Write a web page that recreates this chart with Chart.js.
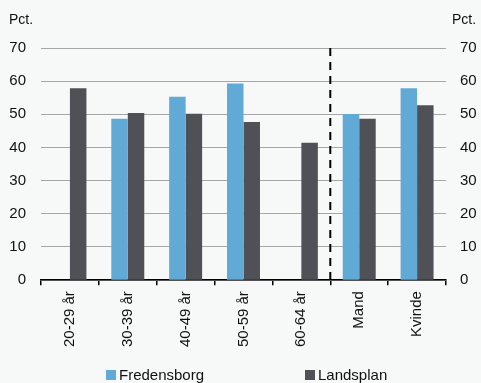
<!DOCTYPE html>
<html>
<head>
<meta charset="utf-8">
<script src="https://cdn.jsdelivr.net/npm/chart.js@4"></script>
<style>
  body { margin: 0; background: #f7f8f8; }
  #wrap { position: relative; width: 481px; height: 383px; }
  #legend { position: absolute; top: 366px; left: 0; width: 481px; font: 15px "Liberation Sans", Arial, sans-serif; color: #111; }
  .item { position: absolute; top: 0; display: flex; align-items: center; }
  .box { width: 10px; height: 10px; margin-right: 3px; }
</style>
</head>
<body>
<div id="wrap">
  <canvas id="chart" width="481" height="383"></canvas>
  <div id="legend">
    <div class="item" style="left:106px"><span class="box" style="background:#62aad6"></span>Fredensborg</div>
    <div class="item" style="left:305px"><span class="box" style="background:#505157"></span>Landsplan</div>
  </div>
</div>
<script>
// Categories and values
const categories = ['20-29 år', '30-39 år', '40-49 år', '50-59 år', '60-64 år', 'Mand', 'Kvinde'];
const fredensborg = [null, 48.7, 55.3, 59.3, null, 50.1, 57.9];
const landsplan = [57.9, 50.4, 50.2, 47.7, 41.4, 48.7, 52.7];
const yTicks = [0, 10, 20, 30, 40, 50, 60, 70];

const font = { family: '"Liberation Sans", Arial, sans-serif', size: 15 };

// Dashed divider between age groups and gender, plus the "Pct." labels
const extras = {
    id: 'extras',
    afterDatasetsDraw(chart) {
        const ctx = chart.ctx;
        const x = chart.scales.x;
        const area = chart.chartArea;
        const pos = (x.getPixelForValue(4) + x.getPixelForValue(5)) / 2;
        ctx.save();
        ctx.strokeStyle = '#000';
        ctx.lineWidth = 2;
        ctx.setLineDash([8, 6]);
        ctx.beginPath();
        ctx.moveTo(pos, area.top);
        ctx.lineTo(pos, area.bottom);
        ctx.stroke();
        ctx.setLineDash([]);
        ctx.fillStyle = '#111';
        ctx.font = '14px "Liberation Sans", Arial, sans-serif';
        ctx.textBaseline = 'middle';
        ctx.textAlign = 'left';
        ctx.fillText('Pct.', 9, 20);
        ctx.fillText('Pct.', 452, 20);
        ctx.restore();
    }
};

const ctx = document.getElementById('chart').getContext('2d');
new Chart(ctx, {
    type: 'bar',
    data: {
        labels: categories,
        datasets: [{
            label: 'Fredensborg',
            data: fredensborg,
            backgroundColor: '#62aad6',
            yAxisID: 'y'
        }, {
            label: 'Landsplan',
            data: landsplan,
            backgroundColor: '#505157',
            yAxisID: 'y'
        }]
    },
    options: {
        responsive: false,
        animation: false,
        layout: { padding: { top: 48, bottom: 30, left: 0, right: 0 } },
        plugins: { legend: { display: false }, tooltip: { enabled: false } },
        datasets: { bar: { categoryPercentage: 0.57, barPercentage: 1 } },
        scales: {
            x: {
                grid: { offset: true, drawOnChartArea: false, color: '#000', tickLength: 5, lineWidth: 1.5 },
                border: { color: '#000', width: 1.5 },
                ticks: { color: '#111', font: font, maxRotation: 90, minRotation: 90, padding: 6 }
            },
            y: {
                position: 'left',
                min: 0, max: 70,
                afterBuildTicks: (s) => { s.ticks = yTicks.map(v => ({ value: v })); },
                afterFit: (s) => { s.width = 41; },
                grid: { color: '#a6a6a6', drawTicks: false, lineWidth: 1 },
                border: { display: false },
                ticks: { color: '#111', font: font, padding: 15 }
            },
            y2: {
                position: 'right',
                min: 0, max: 70,
                afterBuildTicks: (s) => { s.ticks = yTicks.map(v => ({ value: v })); },
                afterFit: (s) => { s.width = 35; },
                grid: { display: false, drawTicks: false },
                border: { display: false },
                ticks: { color: '#111', font: font, padding: 14 }
            }
        }
    },
    plugins: [extras]
});
</script>
</body>
</html>
